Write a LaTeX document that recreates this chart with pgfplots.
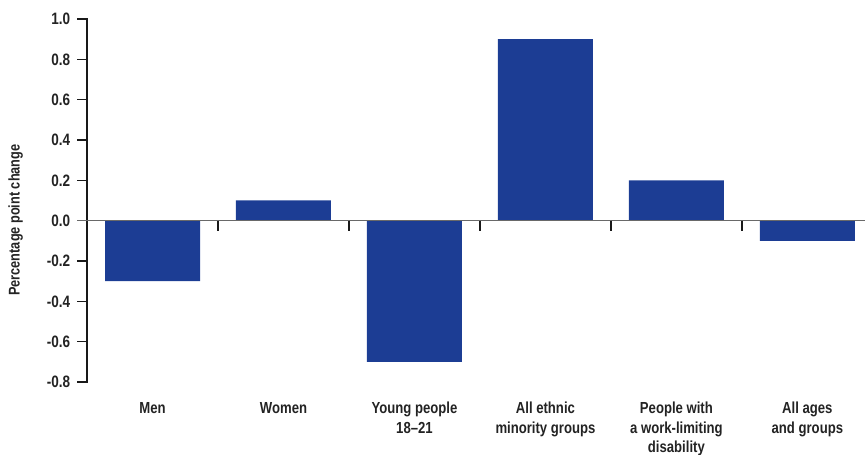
\documentclass[border=0pt]{standalone}
\usepackage{fontspec}
\setmainfont{Liberation Sans}[FakeStretch=0.82, UprightFont={* Bold}, BoldFont={* Bold}]
\usepackage{pgfplots}
\pgfplotsset{compat=1.18}
\definecolor{barblue}{RGB}{28,61,148}
\definecolor{zerogray}{RGB}{105,105,105}
\definecolor{axisdark}{RGB}{25,25,25}
\definecolor{txt}{RGB}{35,35,35}
\tikzset{catlab/.style={font=\fontsize{16bp}{19.6bp}\selectfont, text=txt, align=center, anchor=north, inner sep=0pt, yshift=-20bp}}
\begin{document}
\begin{tikzpicture}
\path[use as bounding box] (0,0) rectangle (865bp,455bp);
\begin{axis}[
  at={(87.3bp,73bp)}, anchor=south west,
  scale only axis, width=777.7bp, height=363bp,
  xmin=-0.498, xmax=5.44,
  ymin=-0.8, ymax=1.0,
  axis x line=none,
  axis y line*=left,
  y axis line style={draw=axisdark, line width=1.6bp, -},
  ytick={-0.8,-0.6,-0.4,-0.2,0,0.2,0.4,0.6,0.8,1.0},
  yticklabels={-0.8,-0.6,-0.4,-0.2,0.0,0.2,0.4,0.6,0.8,1.0},
  major tick length=0pt,
  yticklabel style={font=\fontsize{16.5bp}{19bp}\selectfont, text=txt, inner sep=0pt, anchor=east, xshift=-17bp},
  xtick=\empty,
  ylabel={Percentage point change},
  ylabel style={font=\fontsize{15.5bp}{19bp}\selectfont, text=txt, at={(axis description cs:-0.092,0.446)}, anchor=center},
  clip=false,
  ybar, bar width=95bp,
]
\addplot[fill=barblue, draw=none, bar shift=0pt] coordinates {(0,-0.3) (1,0.1) (2,-0.7) (3,0.9) (4,0.2) (5,-0.1)};
\draw[zerogray, line width=1.6bp] ([xshift=-10bp]axis cs:-0.498,0) -- (axis cs:5.44,0);
\pgfplotsinvokeforeach{0.5,1.5,2.5,3.5,4.5}{
  \draw[axisdark, line width=1.6bp] (axis cs:#1,0) -- ([yshift=-10bp]axis cs:#1,0);
}
\node[catlab] at (axis cs:0,-0.8) {Men};
\node[catlab] at (axis cs:1,-0.8) {Women};
\node[catlab] at (axis cs:2,-0.8) {Young people\\18--21};
\node[catlab] at (axis cs:3,-0.8) {All ethnic\\minority groups};
\node[catlab] at (axis cs:4,-0.8) {People with\\a work-limiting\\disability};
\node[catlab] at (axis cs:5,-0.8) {All ages\\and groups};
\end{axis}
\foreach \ty in {73,113.33,153.67,194,274.67,315,355.33,395.67,436} {
  \fill[axisdark] (77.3bp,\ty bp-0.8bp) rectangle (88bp,\ty bp+0.8bp);
}
\end{tikzpicture}
\end{document}
